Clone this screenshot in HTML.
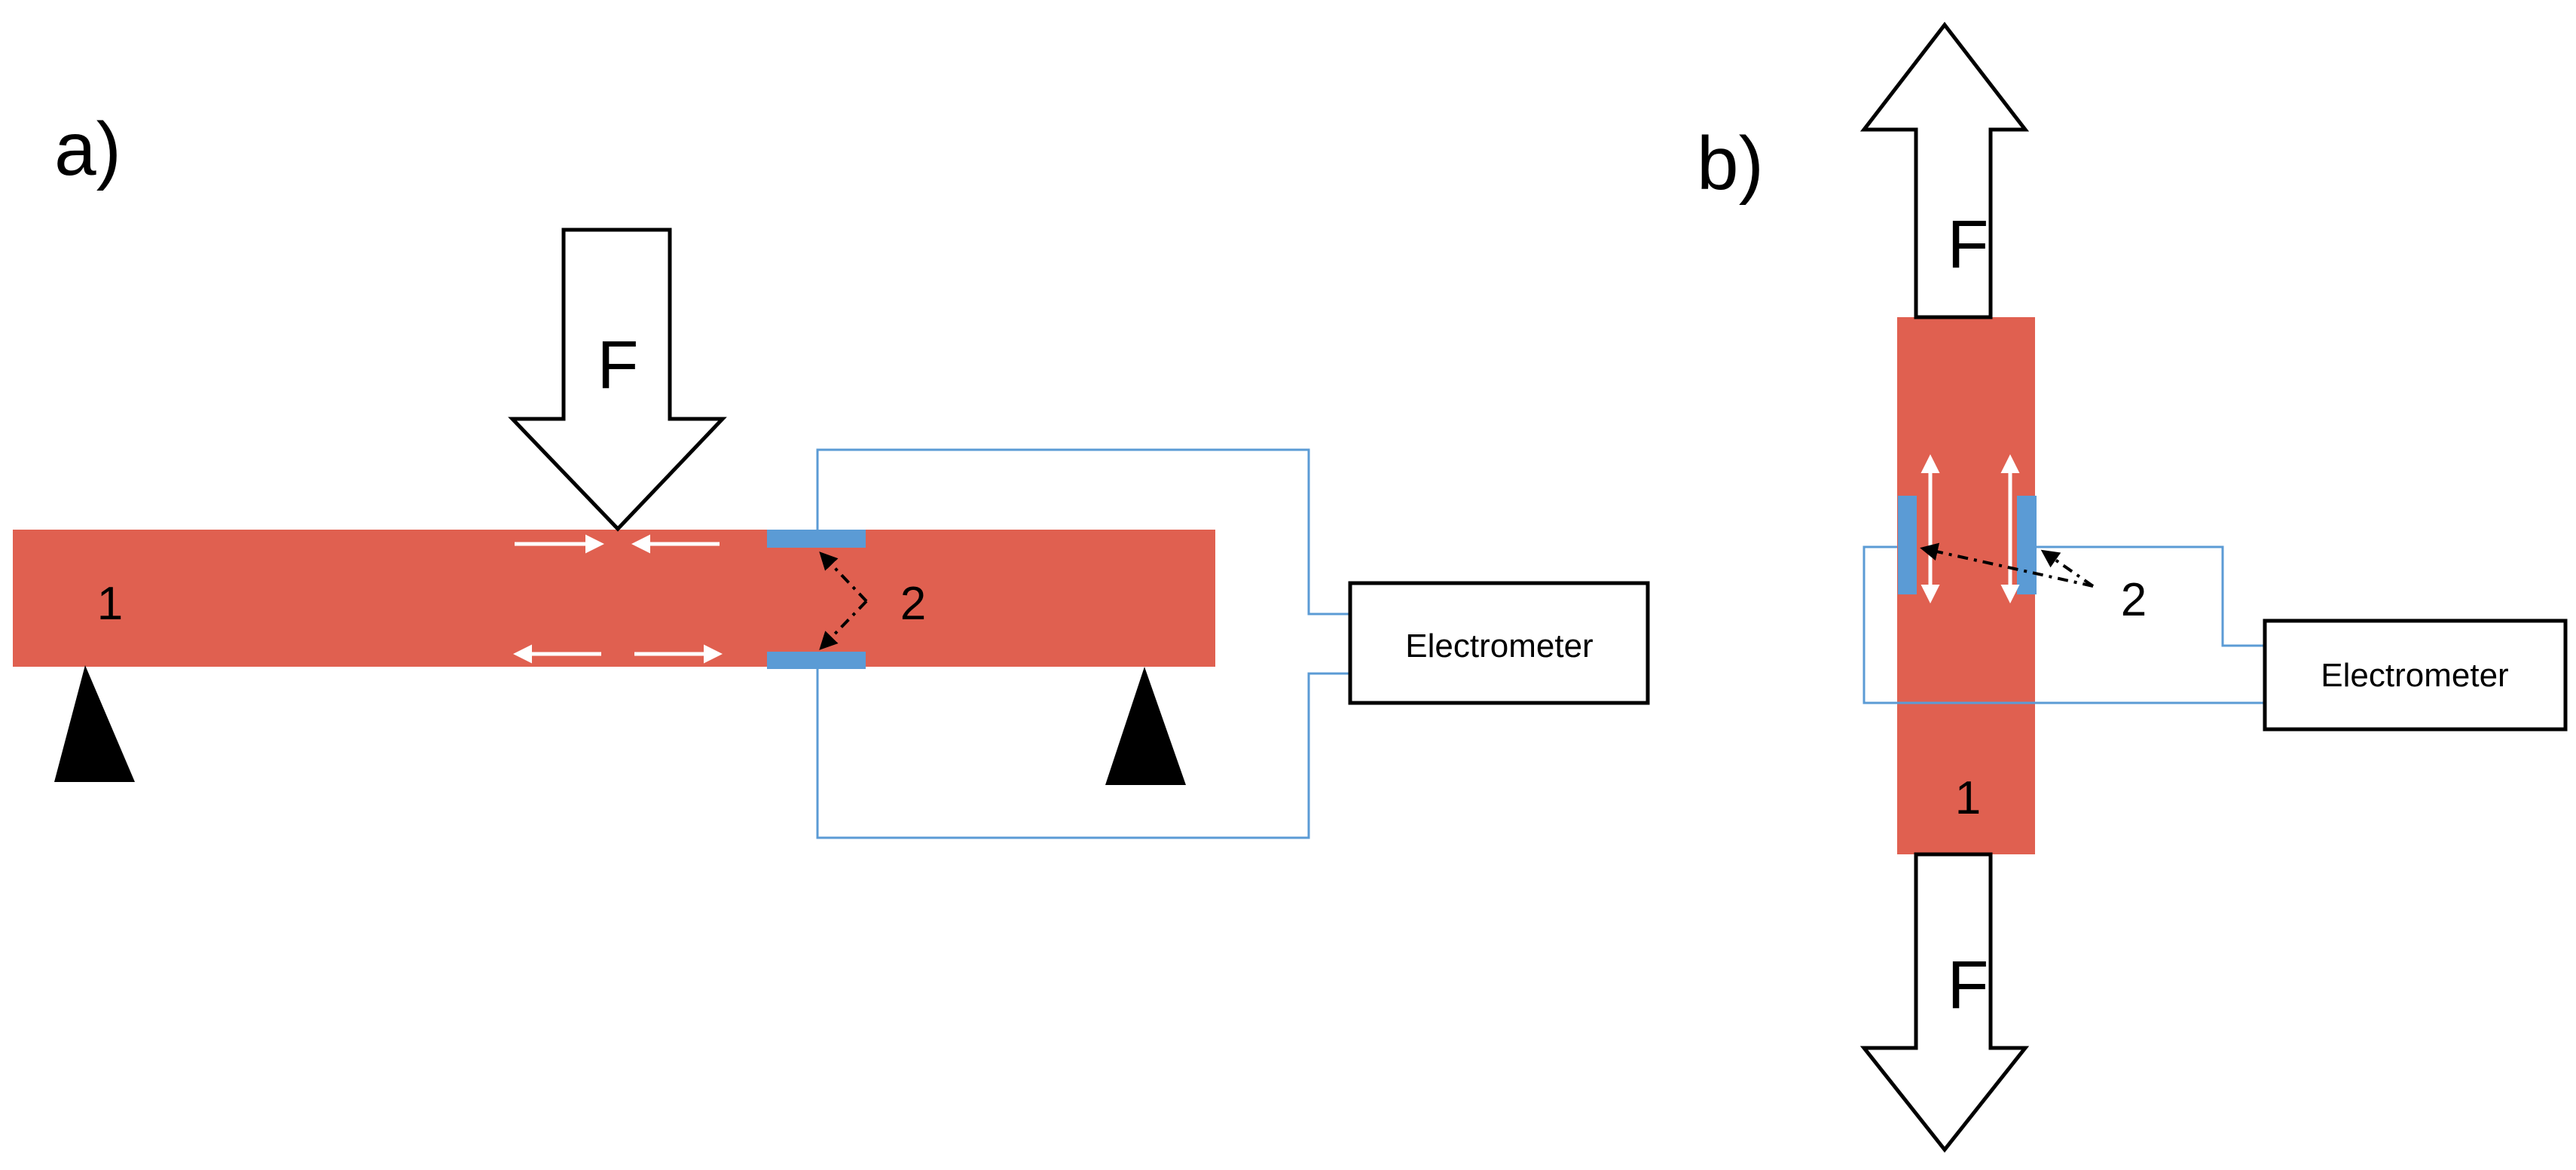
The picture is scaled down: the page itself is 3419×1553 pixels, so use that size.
<!DOCTYPE html>
<html><head><meta charset="utf-8"><style>
html,body{margin:0;padding:0;background:#fff;}
svg{display:block;}
text{font-family:"Liberation Sans","DejaVu Sans",sans-serif;}
</style></head><body>
<svg width="3419" height="1553" viewBox="0 0 3419 1553" xmlns="http://www.w3.org/2000/svg">
<defs>
<marker id="ah" markerWidth="6" markerHeight="6" refX="5" refY="3" orient="auto" markerUnits="strokeWidth">
<path d="M0,0 L6,3 L0,6 Z" fill="#000"/></marker>
<marker id="wh" markerWidth="5" markerHeight="5" refX="4" refY="2.5" orient="auto" markerUnits="strokeWidth">
<path d="M0,0 L5,2.5 L0,5 Z" fill="#fff"/></marker>
</defs>

<!-- a) -->
<text x="72" y="232" font-size="100">a)</text>
<rect x="17" y="703" width="1596" height="182" fill="#E06050"/>
<polygon points="748,305 889,305 889,556 959,556 820,702 680,556 748,556" fill="#fff" stroke="#000" stroke-width="5"/>
<text x="820" y="515" font-size="90" text-anchor="middle">F</text>
<polygon points="113,883 179,1038 72,1038" fill="#000"/>
<polygon points="1519,885 1574,1042 1467,1042" fill="#000"/>
<polyline points="1085,703 1085,597 1737,597 1737,815 1792,815" fill="none" stroke="#5B9BD5" stroke-width="3"/>
<polyline points="1085,888 1085,1112 1737,1112 1737,894 1792,894" fill="none" stroke="#5B9BD5" stroke-width="3"/>
<rect x="1792" y="774" width="395" height="159" fill="#fff" stroke="#000" stroke-width="5"/>
<text x="1990" y="872" font-size="44" text-anchor="middle">Electrometer</text>
<rect x="1018" y="703" width="131" height="24" fill="#5B9BD5"/>
<rect x="1018" y="865" width="131" height="23" fill="#5B9BD5"/>
<g stroke="#fff" stroke-width="5">
<line x1="683" y1="722" x2="797" y2="722" marker-end="url(#wh)"/>
<line x1="955" y1="722" x2="843" y2="722" marker-end="url(#wh)"/>
<line x1="798" y1="868" x2="686" y2="868" marker-end="url(#wh)"/>
<line x1="842" y1="868" x2="954" y2="868" marker-end="url(#wh)"/>
</g>
<g stroke="#000" stroke-width="4" stroke-dasharray="14,8,4,8" fill="none">
<line x1="1150" y1="798" x2="1090" y2="735" marker-end="url(#ah)"/>
<line x1="1150" y1="798" x2="1090" y2="860" marker-end="url(#ah)"/>
</g>
<text x="146" y="822" font-size="62" text-anchor="middle">1</text>
<text x="1212" y="822" font-size="62" text-anchor="middle">2</text>

<!-- b) -->
<text x="2252" y="251" font-size="100">b)</text>
<rect x="2518" y="421" width="183" height="713" fill="#E06050"/>
<polygon points="2581,33 2688,172 2642,172 2642,421 2543,421 2543,172 2474,172" fill="#fff" stroke="#000" stroke-width="5"/>
<polygon points="2543,1134 2642,1134 2642,1391 2688,1391 2581,1526 2474,1391 2543,1391" fill="#fff" stroke="#000" stroke-width="5"/>
<text x="2612" y="355" font-size="90" text-anchor="middle">F</text>
<text x="2612" y="1338" font-size="90" text-anchor="middle">F</text>
<polyline points="2518,726 2474,726 2474,933 3006,933" fill="none" stroke="#5B9BD5" stroke-width="3"/>
<polyline points="2703,726 2950,726 2950,857 3006,857" fill="none" stroke="#5B9BD5" stroke-width="3"/>
<rect x="3006" y="824" width="399" height="144" fill="#fff" stroke="#000" stroke-width="5"/>
<text x="3205" y="911" font-size="44" text-anchor="middle">Electrometer</text>
<rect x="2519" y="658" width="25" height="131" fill="#5B9BD5"/>
<rect x="2677" y="658" width="26" height="131" fill="#5B9BD5"/>
<g stroke="#fff" stroke-width="5">
<line x1="2562" y1="700" x2="2562" y2="608" marker-end="url(#wh)"/>
<line x1="2562" y1="690" x2="2562" y2="796" marker-end="url(#wh)"/>
<line x1="2668" y1="700" x2="2668" y2="608" marker-end="url(#wh)"/>
<line x1="2668" y1="690" x2="2668" y2="796" marker-end="url(#wh)"/>
</g>
<g stroke="#000" stroke-width="4" stroke-dasharray="14,8,4,8" fill="none">
<line x1="2778" y1="778" x2="2552" y2="728" marker-end="url(#ah)"/>
<line x1="2778" y1="778" x2="2712" y2="732" marker-end="url(#ah)"/>
</g>
<text x="2832" y="625" font-size="62" text-anchor="middle" dy="192">2</text>
<text x="2612" y="1080" font-size="62" text-anchor="middle">1</text>
</svg>
</body></html>
